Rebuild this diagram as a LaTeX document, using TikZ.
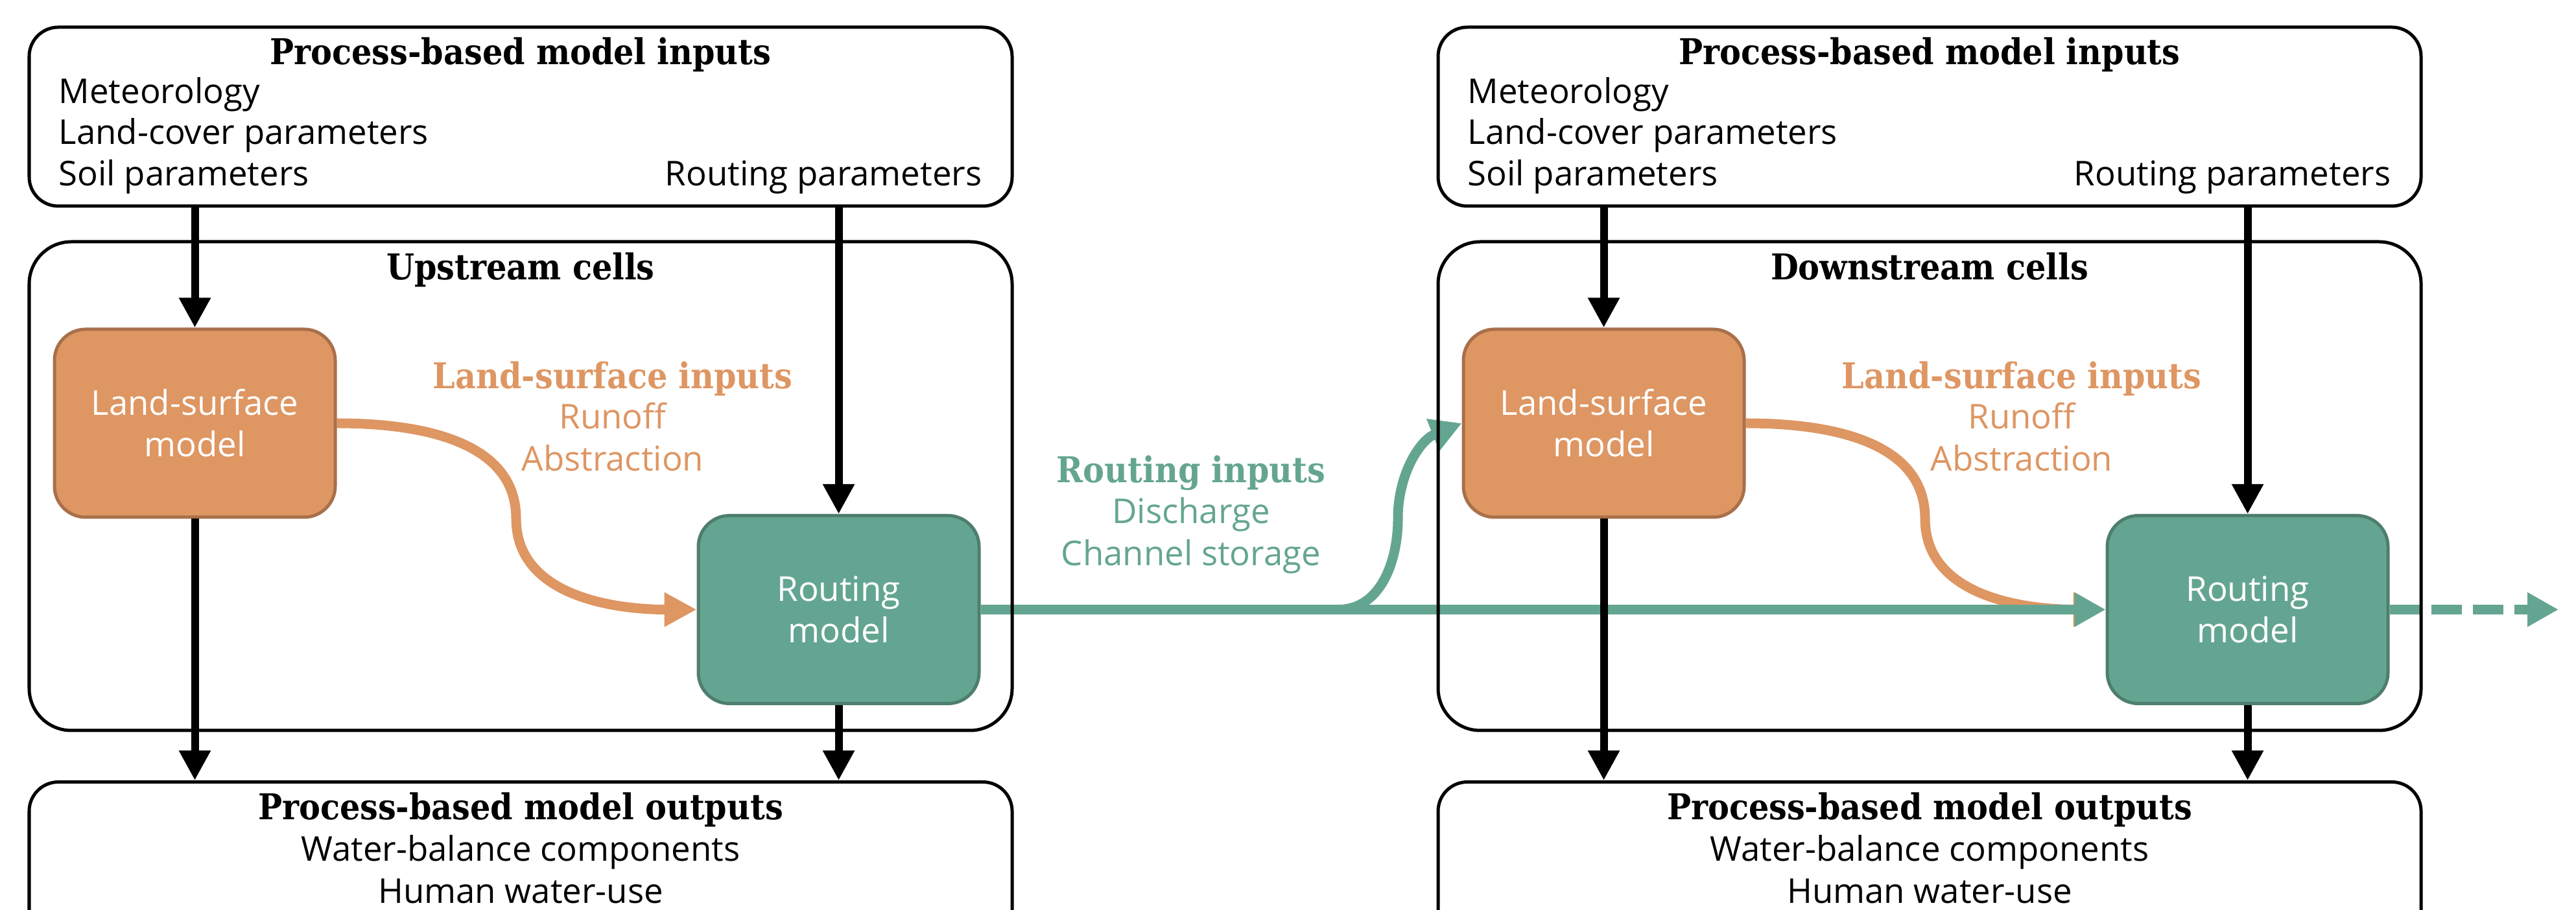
\documentclass[tikz,border=0pt]{standalone}
\usepackage{fontspec}
\setmainfont{Open Sans}
\newfontfamily\headfont{DejaVu Serif Condensed}
\usetikzlibrary{arrows.meta,positioning,backgrounds}

\definecolor{lsmorange}{HTML}{DE9663}
\definecolor{lsmedge}{HTML}{A8704A}
\definecolor{routeteal}{HTML}{64A591}
\definecolor{routeedge}{HTML}{4E7E6E}

\tikzset{
  panel/.style={draw=black, line width=0.05cm, rounded corners=0.45cm,
    minimum width=15.16cm, inner sep=0pt},
  cellbox/.style={panel, rounded corners=0.65cm, minimum height=7.54cm},
  model/.style={line width=0.05cm, rounded corners=0.48cm, minimum width=4.33cm,
    minimum height=2.9cm, text=white, align=center, font=\fontsize{15}{18.2}\selectfont},
  lsm/.style={model, fill=lsmorange, draw=lsmedge},
  router/.style={model, fill=routeteal, draw=routeedge},
  headtxt/.style={font=\headfont\bfseries\fontsize{15.6}{18}\selectfont, inner sep=0pt, anchor=base},
  bodytxt/.style={font=\fontsize{15}{18}\selectfont, inner sep=0pt, anchor=base west},
  feed/.style={line width=0.12cm, -{Triangle[length=0.46cm,width=0.46cm]}},
  runoff/.style={draw=lsmorange, line width=0.15cm, -{Triangle[length=0.5cm,width=0.5cm]}},
  channel/.style={draw=routeteal, line width=0.15cm, -{Triangle[length=0.48cm,width=0.5cm]}},
}

\begin{document}
\begin{tikzpicture}
  \useasboundingbox (0,0) rectangle (39.73,14.03);
  \clip (0,0) rectangle (39.73,14.03);

  % upstream side
  \node[panel, minimum height=2.76cm] (inUp) at (8.03,12.23) {};
  \node[headtxt] (inUpHead) at (8.03,13.03) {Process-based model inputs};
  \node[bodytxt] (inUpMet) at (0.90,12.43) {Meteorology};
  \node[bodytxt] (inUpLand) at (0.90,11.80) {Land-cover parameters};
  \node[bodytxt] (inUpSoil) at (0.90,11.16) {Soil parameters};
  \node[bodytxt, anchor=base east] (inUpRoute) at (15.15,11.16) {Routing parameters};

  \node[cellbox] (cellsUp) at (8.03,6.53) {};
  \node[headtxt] (cellsUpHead) at (8.03,9.71) {Upstream cells};
  \node[lsm] (lsmUp) at (3.005,7.50) {Land-surface\\model};
  \node[router] (routeUp) at (12.935,4.625) {Routing\\model};

  \node[headtxt, text=lsmorange] (lsHeadUp) at (9.45,8.03) {Land-surface inputs};
  \node[bodytxt, anchor=base, text=lsmorange] (lsRunUp) at (9.45,7.41) {Runoff};
  \node[bodytxt, anchor=base, text=lsmorange] (lsAbsUp) at (9.45,6.76) {Abstraction};

  \node[panel, minimum height=2.6cm, anchor=north] (outUp) at (8.03,1.99) {};
  \node[headtxt] (outUpHead) at (8.03,1.38) {Process-based model outputs};
  \node[bodytxt, anchor=base] (outUpWater) at (8.03,0.75) {Water-balance components};
  \node[bodytxt, anchor=base] (outUpHuman) at (8.03,0.10) {Human water-use};

  % between the cells
  \node[headtxt, text=routeteal] (rtHead) at (18.37,6.58) {Routing inputs};
  \node[bodytxt, anchor=base, text=routeteal] (rtDis) at (18.37,5.95) {Discharge};
  \node[bodytxt, anchor=base, text=routeteal] (rtStore) at (18.37,5.30) {Channel storage};

  % downstream side
  \node[panel, minimum height=2.76cm] (inDown) at (29.76,12.23) {};
  \node[headtxt] (inDownHead) at (29.76,13.03) {Process-based model inputs};
  \node[bodytxt] (inDownMet) at (22.63,12.43) {Meteorology};
  \node[bodytxt] (inDownLand) at (22.63,11.80) {Land-cover parameters};
  \node[bodytxt] (inDownSoil) at (22.63,11.16) {Soil parameters};
  \node[bodytxt, anchor=base east] (inDownRoute) at (36.88,11.16) {Routing parameters};

  \node[cellbox] (cellsDown) at (29.76,6.53) {};
  \node[headtxt] (cellsDownHead) at (29.76,9.71) {Downstream cells};
  \node[lsm] (lsmDown) at (24.735,7.50) {Land-surface\\model};
  \node[router] (routeDown) at (34.665,4.625) {Routing\\model};

  \node[headtxt, text=lsmorange] (lsHeadDown) at (31.18,8.03) {Land-surface inputs};
  \node[bodytxt, anchor=base, text=lsmorange] (lsRunDown) at (31.18,7.41) {Runoff};
  \node[bodytxt, anchor=base, text=lsmorange] (lsAbsDown) at (31.18,6.76) {Abstraction};

  \node[panel, minimum height=2.6cm, anchor=north] (outDown) at (29.76,1.99) {};
  \node[headtxt] (outDownHead) at (29.76,1.38) {Process-based model outputs};
  \node[bodytxt, anchor=base] (outDownWater) at (29.76,0.75) {Water-balance components};
  \node[bodytxt, anchor=base] (outDownHuman) at (29.76,0.10) {Human water-use};

  \coordinate (lsBendUp) at (7.96,6.03);
  \coordinate (lsBendDown) at (29.69,6.03);
  \coordinate (fork) at (20.64,4.625);
  \coordinate (rise) at (21.56,6.03);
  \coordinate (onward) at (39.46,4.625);

  % coloured flows go under the box outlines
  \begin{scope}[on background layer]
    \draw[runoff] (lsmUp.east) to[out=0,in=90] (lsBendUp) to[out=-90,in=180] (routeUp.west);
    \draw[runoff] (lsmDown.east) to[out=0,in=90] (lsBendDown) to[out=-90,in=180] (routeDown.west);
    \draw[channel] (routeUp.east) -- (routeDown.west);
    \draw[channel] (fork) to[out=0,in=-90] (rise) to[out=90,in=202] (lsmDown.west);
    \draw[channel, dash pattern=on 0.47cm off 0.17cm] (routeDown.east) -- (onward);
  \end{scope}

  \draw[feed] (inUp.south -| lsmUp.north) -- (lsmUp.north);
  \draw[feed] (inUp.south -| routeUp.north) -- (routeUp.north);
  \draw[feed] (lsmUp.south) -- (lsmUp.south |- outUp.north);
  \draw[feed] (routeUp.south) -- (routeUp.south |- outUp.north);

  \draw[feed] (inDown.south -| lsmDown.north) -- (lsmDown.north);
  \draw[feed] (inDown.south -| routeDown.north) -- (routeDown.north);
  \draw[feed] (lsmDown.south) -- (lsmDown.south |- outDown.north);
  \draw[feed] (routeDown.south) -- (routeDown.south |- outDown.north);
\end{tikzpicture}
\end{document}
